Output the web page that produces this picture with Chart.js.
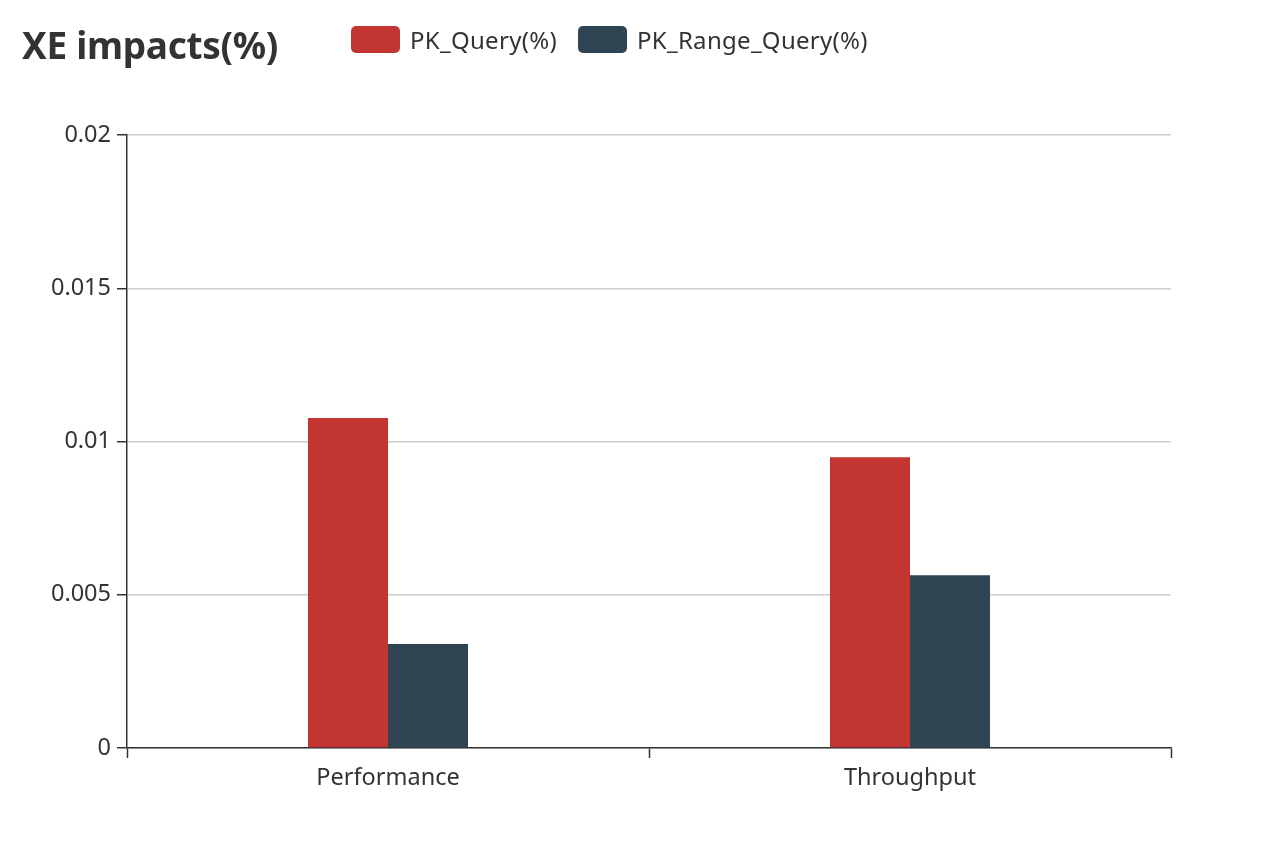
<!DOCTYPE html>
<html>
<head>
<meta charset="utf-8">
<script src="https://cdn.jsdelivr.net/npm/chart.js@4/dist/chart.umd.min.js"></script>
<style>
  html, body { margin: 0; padding: 0; background: #fff; }
  body { width: 1286px; height: 858px; position: relative; overflow: hidden; font-family: "Noto Sans", "Open Sans", sans-serif; }
  #title { position: absolute; left: 22px; top: 19px; font-size: 37px; font-weight: bold; color: #333; line-height: 52px; letter-spacing: -0.3px; }
  #legend { position: absolute; left: 351px; top: 23px; display: flex; align-items: center; font-size: 24px; letter-spacing: 0.3px; color: #333; }
  .item { display: flex; align-items: center; margin-right: 21px; }
  .box { width: 49px; height: 27px; border-radius: 5px; margin-right: 10px; }
  #wrap { position: absolute; left: 0; top: 0; width: 1286px; height: 858px; }
</style>
</head>
<body>
<div id="wrap"><canvas id="c" width="1286" height="858"></canvas></div>
<div id="title">XE impacts(%)</div>
<div id="legend"></div>
<script>
const categories = ["Performance", "Throughput"];
const seriesNames = ["PK_Query(%)", "PK_Range_Query(%)"];
const pkQuery = [0.01077, 0.00949];
const pkRangeQuery = [0.00339, 0.00564];
const yTicks = [0, 0.005, 0.01, 0.015, 0.02];
const colors = ["#c23531", "#2f4554"];

const legend = document.getElementById("legend");
seriesNames.forEach((n, i) => {
  const it = document.createElement("div");
  it.className = "item";
  const b = document.createElement("div");
  b.className = "box";
  b.style.background = colors[i];
  const t = document.createElement("span");
  t.textContent = n;
  it.appendChild(b); it.appendChild(t);
  legend.appendChild(it);
});

new Chart(document.getElementById("c"), {
  type: "bar",
  data: {
    labels: categories,
    datasets: [
      { label: seriesNames[0], data: pkQuery, backgroundColor: colors[0], barPercentage: 1, categoryPercentage: 0.3065 },
      { label: seriesNames[1], data: pkRangeQuery, backgroundColor: colors[1], barPercentage: 1, categoryPercentage: 0.3065 }
    ]
  },
  options: {
    responsive: false,
    animation: false,
    layout: { padding: { top: 135, right: 115, left: 0, bottom: 0 } },
    plugins: { legend: { display: false }, title: { display: false }, tooltip: { enabled: false } },
    scales: {
      x: {
        grid: { drawOnChartArea: false, offset: true, tickLength: 10, tickColor: "#333", tickWidth: 1.5 },
        border: { color: "#333", width: 1.5 },
        ticks: { color: "#333", font: { family: "Noto Sans", size: 23.5 }, padding: 6 },
        afterFit: s => { s.height = 110; }
      },
      y: {
        min: 0, max: 0.02,
        afterBuildTicks: s => { s.ticks = yTicks.map(v => ({ value: v })); },
        grid: { color: "#ccc", lineWidth: 1.5, tickLength: 10, tickColor: "#333", tickWidth: 1.5 },
        border: { color: "#333", width: 1.5 },
        ticks: { color: "#333", font: { family: "Noto Sans", size: 23.5 }, padding: 6, callback: v => String(+(+v).toFixed(4)) },
        afterFit: s => { s.width = 127; }
      }
    }
  }
});
</script>
</body>
</html>
